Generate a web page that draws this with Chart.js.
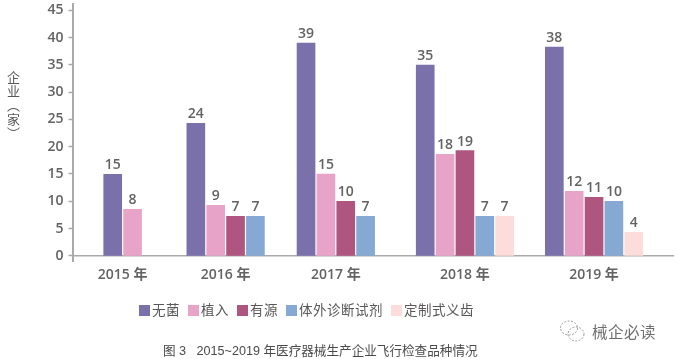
<!DOCTYPE html>
<html lang="zh-CN">
<head>
    <meta charset="UTF-8">
    <title>图3 飞行检查品种情况</title>
    <style>
        body { margin: 0; background: #fff; font-family: "Open Sans", "Noto Sans CJK SC", sans-serif; color: #595757; }
        #wrap { position: relative; width: 677px; height: 359px; overflow: hidden; }
        canvas { position: absolute; left: 0; top: 0; }
        #y-title { position: absolute; left: 5px; top: 71px; writing-mode: vertical-rl; text-orientation: upright; font-size: 13px; line-height: 16px; letter-spacing: 1px; white-space: nowrap; }
        #legend { position: absolute; left: 139px; top: 301px; display: flex; font-size: 13.5px; line-height: 18px; white-space: nowrap; }
        #legend .item { display: flex; align-items: center; margin-right: 8px; }
        #legend .box { width: 11px; height: 11px; margin-right: 2px; }
        #legend .name { letter-spacing: 0.5px; }
        #caption { position: absolute; left: 163px; top: 340px; font: 12.6px "Liberation Sans", "Noto Sans CJK SC", sans-serif; color: #4a4a4a; white-space: pre; }
        #mark { position: absolute; left: 592px; top: 320px; font-size: 15.5px; color: #6e6e6e; letter-spacing: 0.5px; }
        #logo { position: absolute; left: 559px; top: 319px; }
    </style>
    <script src="https://cdn.jsdelivr.net/npm/chart.js"></script>
</head>
<body>
<div id="wrap">
    <canvas id="chart" width="677" height="359"></canvas>
    <div id="y-title">企业（家）</div>
    <div id="legend"></div>
    <div id="caption">图 3   2015~2019 年医疗器械生产企业飞行检查品种情况</div>
    <svg id="logo" width="28" height="24" fill="none" stroke="#9a9a9a" stroke-width="1" stroke-dasharray="2 1.5">
        <ellipse cx="10" cy="9" rx="8.5" ry="7"/>
        <ellipse cx="17" cy="15" rx="8" ry="7"/>
    </svg>
    <div id="mark">械企必读</div>
</div>
<script>
    const years = ['2015 年', '2016 年', '2017 年', '2018 年', '2019 年'];
    // the years are not evenly spaced in the picture, axis runs 0-100
    const yearPositions = [8.35, 25.5, 43.85, 65.35, 86.85];
    const yTicks = [0, 5, 10, 15, 20, 25, 30, 35, 40, 45];

    const seriesNames = ['无菌', '植入', '有源', '体外诊断试剂', '定制式义齿'];
    const seriesColors = ['#7a71ab', '#e8a4c8', '#af5680', '#85a9d2', '#fddcdc'];

    // bar heights as drawn
    const sterile = [14.95, 24.3, 39, 34.95, 38.25];
    const implant = [8.5, 9.25, 15, 18.6, 11.8];
    const active = [null, 7.25, 10, 19.3, 10.7];
    const ivd = [null, 7.25, 7.25, 7.25, 10];
    const denture = [null, null, null, 7.25, 4.3];

    // numbers printed above the bars
    const sterileText = [15, 24, 39, 35, 38];
    const implantText = [8, 9, 15, 18, 12];
    const activeText = [null, 7, 10, 19, 11];
    const ivdText = [null, 7, 7, 7, 10];
    const dentureText = [null, null, null, 7, 4];

    const allValues = [sterile, implant, active, ivd, denture];
    const allText = [sterileText, implantText, activeText, ivdText, dentureText];

    const textColor = '#636363';
    const axisColor = '#a9a9ad';
    const mainFont = '"Open Sans", "Noto Sans CJK SC", sans-serif';

    // Value labels above each bar
    const barLabels = {
        id: 'barLabels',
        afterDatasetsDraw(chart) {
            const ctx = chart.ctx;
            ctx.save();
            ctx.font = '600 14px ' + mainFont;
            ctx.fillStyle = textColor;
            ctx.textAlign = 'center';
            ctx.textBaseline = 'alphabetic';
            chart.data.datasets.forEach((ds, i) => {
                chart.getDatasetMeta(i).data.forEach((bar, j) => {
                    if (allText[i][j] !== null) {
                        ctx.fillText(allText[i][j], bar.x, bar.y - 5);
                    }
                });
            });
            ctx.restore();
        }
    };

    new Chart(document.getElementById('chart'), {
        type: 'bar',
        data: {
            datasets: seriesNames.map((name, i) => ({
                label: name,
                backgroundColor: seriesColors[i],
                data: allValues[i].map((v, j) => ({ x: yearPositions[j], y: v })),
                skipNull: true,
                barThickness: 19.85,
                maxBarThickness: 18
            }))
        },
        options: {
            responsive: false,
            animation: false,
            layout: { padding: { top: 4, right: 4, bottom: 98, left: 0 } },
            plugins: { legend: { display: false }, title: { display: false }, tooltip: { enabled: false } },
            scales: {
                x: {
                    type: 'linear',
                    offset: false,
                    min: 0,
                    max: 100,
                    position: { y: 0 },
                    border: { color: axisColor, width: 1.5 },
                    grid: { offset: false, drawOnChartArea: false, drawTicks: false },
                    afterBuildTicks: axis => { axis.ticks = yearPositions.map(v => ({ value: v })); },
                    afterFit: axis => { axis.paddingLeft = 0; axis.paddingRight = 0; },
                    ticks: {
                        callback: (value, index) => years[index],
                        autoSkip: false,
                        maxRotation: 0,
                        padding: 11,
                        color: textColor,
                        font: { size: 14, weight: '600', family: mainFont }
                    }
                },
                y: {
                    min: -0.95,
                    max: 46.15,
                    afterFit: axis => { axis.width = 72.5; axis.paddingTop = 0; axis.paddingBottom = 0; },
                    afterBuildTicks: axis => { axis.ticks = yTicks.map(v => ({ value: v })); },
                    border: { color: axisColor, width: 2 },
                    grid: { drawOnChartArea: false, tickLength: 4, tickColor: axisColor, tickWidth: 1.5 },
                    ticks: {
                        padding: 5,
                        color: textColor,
                        font: { size: 14, weight: '600', family: mainFont }
                    }
                }
            }
        },
        plugins: [barLabels]
    });

    // Legend
    const legendEl = document.getElementById('legend');
    seriesNames.forEach((name, i) => {
        const item = document.createElement('div');
        item.className = 'item';
        item.innerHTML = '<span class="box" style="background:' + seriesColors[i] + '"></span><span class="name">' + name + '</span>';
        legendEl.appendChild(item);
    });
</script>
</body>
</html>
